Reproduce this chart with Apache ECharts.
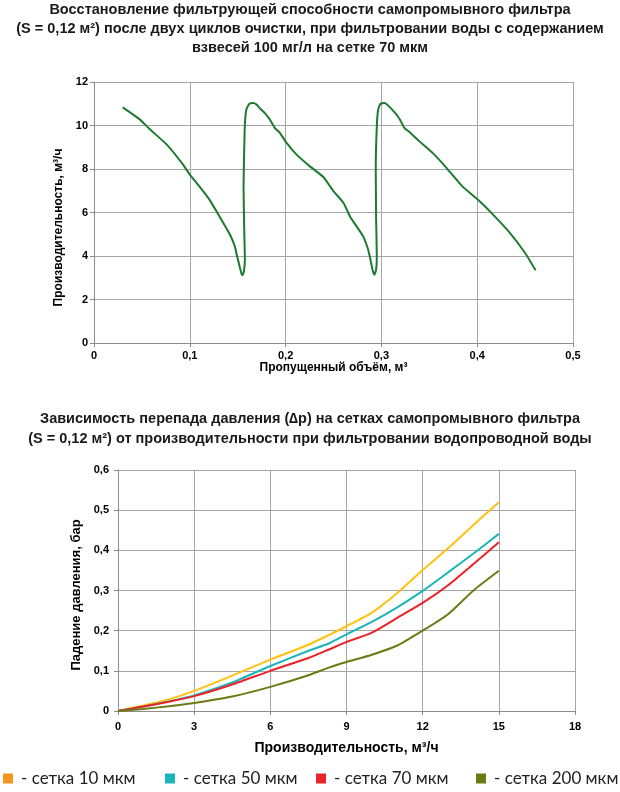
<!DOCTYPE html>
<html>
<head>
<meta charset="utf-8">
<script src="https://cdn.jsdelivr.net/npm/echarts@6/dist/echarts.min.js"></script>
<style>
html, body { margin: 0; padding: 0; background: #fff; }
#chart { width: 620px; height: 792px; }
</style>
</head>
<body>
<div id="chart"></div>
<script>
// верхний график: пропущенный объём (м3) и производительность (м3/ч)
var volume = [0.030, 0.048, 0.058, 0.076, 0.093, 0.100, 0.110, 0.121, 0.131, 0.142, 0.147, 0.149, 0.152, 0.154, 0.155,
  0.1565, 0.1575, 0.1568, 0.1561, 0.1571, 0.1578, 0.1592, 0.162, 0.1662, 0.1697, 0.1739, 0.1784, 0.1836, 0.1888, 0.194,
  0.201, 0.2115, 0.2254, 0.2394, 0.250, 0.2605, 0.2672, 0.2741, 0.281, 0.2862, 0.2886, 0.2907, 0.2928,
  0.2945, 0.2952, 0.2945, 0.2941, 0.2952, 0.2966, 0.299, 0.3034, 0.3079, 0.3138, 0.319, 0.3241, 0.3293,
  0.3397, 0.3534, 0.3672, 0.3845, 0.400, 0.4155, 0.4328, 0.450, 0.461];
var flow = [10.83, 10.27, 9.84, 9.12, 8.2, 7.74, 7.2, 6.56, 5.82, 4.98, 4.44, 4.06, 3.52, 3.19, 3.11,
  3.3, 3.83, 5.21, 7.2, 9.5, 10.27, 10.76, 10.99, 11.03, 10.96, 10.76, 10.57, 10.27, 9.88, 9.66,
  9.2, 8.66, 8.12, 7.63, 6.98, 6.44, 5.82, 5.36, 4.9, 4.29, 3.83, 3.37, 3.14,
  3.37, 3.98, 5.67, 7.97, 9.96, 10.73, 11.0, 11.03, 10.88, 10.6, 10.3, 9.88, 9.7,
  9.27, 8.74, 8.09, 7.2, 6.62, 5.95, 5.13, 4.14, 3.34];

// нижний график: производительность (м3/ч) и падение давления (бар)
var capacity = [0, 1, 2, 3, 4.5, 6, 7.5, 8.3, 9, 10, 11, 12, 13, 14, 15];
var mesh10 = [0, 0.014, 0.029, 0.05, 0.088, 0.128, 0.165, 0.189, 0.211, 0.245, 0.294, 0.351, 0.405, 0.463, 0.52];
var mesh50 = [0, 0.011, 0.024, 0.039, 0.071, 0.112, 0.15, 0.168, 0.191, 0.222, 0.258, 0.299, 0.345, 0.392, 0.441];
var mesh70 = [0, 0.011, 0.023, 0.037, 0.066, 0.1, 0.132, 0.153, 0.172, 0.195, 0.232, 0.269, 0.313, 0.366, 0.42];
var mesh200 = [0, 0.005, 0.012, 0.02, 0.036, 0.06, 0.089, 0.108, 0.122, 0.14, 0.163, 0.2, 0.241, 0.3, 0.349];

var meshNames = ['сетка 10 мкм', 'сетка 50 мкм', 'сетка 70 мкм', 'сетка 200 мкм'];
var lineColors = ['#ffc20e', '#1ab5b8', '#ec2229', '#6b7b14'];
var legendColors = ['#f7941d', '#1ab5b8', '#ec2229', '#6b7b14'];
var legendLeft = [3, 165, 316, 476];

function pairs(xs, ys) {
  return xs.map(function (x, i) { return [x, ys[i]]; });
}
function comma(digits) {
  return function (v) { return v === 0 ? '0' : v.toFixed(digits).replace('.', ','); };
}

var font = 'Liberation Sans, Arial, sans-serif';
var gridLine = { show: true, lineStyle: { color: '#a6a6a6', width: 1 } };
var axisLine = { lineStyle: { color: '#8c8c8c', width: 1 } };
var tick = { show: true, length: 4, lineStyle: { color: '#8c8c8c' } };
var tickLabel = { color: '#000', fontSize: 11, fontWeight: 'bold', fontFamily: font };

var chart = echarts.init(document.getElementById('chart'));
var meshSeries = [mesh10, mesh50, mesh70, mesh200].map(function (ys, i) {
  return {
    name: meshNames[i],
    type: 'line',
    xAxisIndex: 1,
    yAxisIndex: 1,
    data: pairs(capacity, ys),
    showSymbol: false,
    smooth: 0.2,
    lineStyle: { color: lineColors[i], width: 2 },
    itemStyle: { color: legendColors[i] }
  };
});

// по одной легенде на сетку, чтобы держать их позиции
var legends = meshNames.map(function (n, i) {
  return {
    left: legendLeft[i], top: 770, padding: 0,
    icon: 'rect', itemWidth: 10, itemHeight: 10,
    formatter: '- {name}',
    textStyle: { fontFamily: 'Lato', fontSize: 17, color: '#222', padding: [0, 0, 0, 3] },
    data: [{ name: n, itemStyle: { color: legendColors[i] } }]
  };
});

chart.setOption({
  animation: false,
  backgroundColor: '#fff',
  title: [{
    text: 'Восстановление фильтрующей способности самопромывного фильтра\n(S = 0,12 м²) после двух циклов очистки, при фильтровании воды с содержанием\nвзвесей 100 мг/л на сетке 70 мкм',
    left: 310, top: 0, padding: 0, textAlign: 'center',
    textStyle: { fontFamily: font, fontWeight: 'bold', fontSize: 14.5, lineHeight: 19, color: '#1a1a1a' }
  }, {
    text: 'Зависимость перепада давления (∆p) на сетках самопромывного фильтра\n(S = 0,12 м²) от производительности при фильтровании водопроводной воды',
    left: 310, top: 409, padding: 0, textAlign: 'center',
    textStyle: { fontFamily: font, fontWeight: 'bold', fontSize: 14.5, lineHeight: 20, color: '#1a1a1a' }
  }],
  legend: legends,
  grid: [
    { left: 94, right: 47, top: 82, height: 261, containLabel: false },
    { left: 118, right: 45, top: 470, height: 241, containLabel: false }
  ],
  xAxis: [{
    gridIndex: 0, type: 'value', min: 0, max: 0.5, interval: 0.1,
    name: 'Пропущенный объём, м³', nameLocation: 'middle', nameGap: 19,
    nameTextStyle: { fontFamily: font, fontWeight: 'bold', fontSize: 12, color: '#000' },
    axisLine: axisLine, axisTick: tick, splitLine: gridLine,
    axisLabel: Object.assign({ margin: 7, formatter: comma(1) }, tickLabel)
  }, {
    gridIndex: 1, type: 'value', min: 0, max: 18, interval: 3,
    name: 'Производительность, м³/ч', nameLocation: 'middle', nameGap: 30,
    nameTextStyle: { fontFamily: font, fontWeight: 'bold', fontSize: 14, color: '#000' },
    axisLine: axisLine, axisTick: tick, splitLine: gridLine,
    axisLabel: Object.assign({ margin: 10 }, tickLabel)
  }],
  yAxis: [{
    gridIndex: 0, type: 'value', min: 0, max: 12, interval: 2,
    name: 'Производительность, м³/ч', nameLocation: 'middle', nameGap: 20,
    nameTextStyle: { fontFamily: font, fontWeight: 'bold', fontSize: 12, color: '#000', padding: [0, 30, 0, 0] },
    axisLine: Object.assign({ show: true }, axisLine), axisTick: tick, splitLine: gridLine,
    axisLabel: Object.assign({ margin: 6 }, tickLabel)
  }, {
    gridIndex: 1, type: 'value', min: 0, max: 0.6, interval: 0.1,
    name: 'Падение давления, бар', nameLocation: 'middle', nameGap: 33,
    nameTextStyle: { fontFamily: font, fontWeight: 'bold', fontSize: 13, color: '#000', padding: [0, 9, 0, 0] },
    axisLine: Object.assign({ show: true }, axisLine), axisTick: tick, splitLine: gridLine,
    axisLabel: Object.assign({ margin: 9, formatter: comma(1) }, tickLabel)
  }],
  series: [{
    name: 'Производительность',
    type: 'line',
    xAxisIndex: 0,
    yAxisIndex: 0,
    data: pairs(volume, flow),
    showSymbol: false,
    smooth: 0.15,
    lineStyle: { color: '#1d7a2e', width: 2 }
  }].concat(meshSeries)
});
</script>
</body>
</html>
